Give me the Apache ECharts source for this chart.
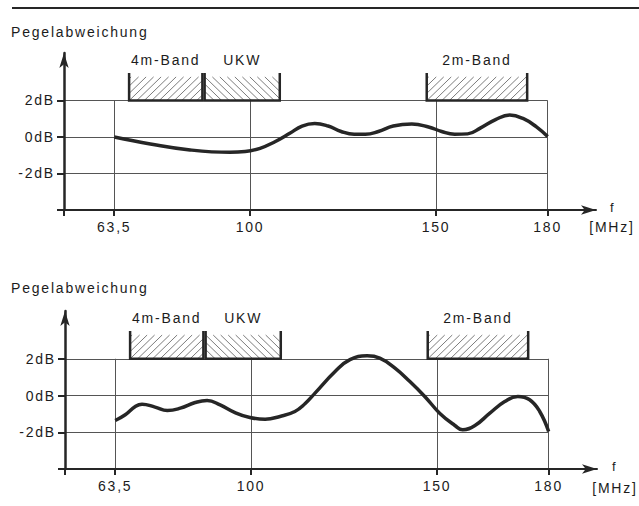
<!DOCTYPE html>
<html><head><meta charset="utf-8">
<script src="https://cdn.jsdelivr.net/npm/echarts@6/dist/echarts.min.js"></script>
<style>
html,body{margin:0;padding:0;background:#fff;}
#chart{width:639px;height:506px;}
#chart text{letter-spacing:1.8px;}
</style></head><body><div id="chart"></div>
<script>
// ---- data ----
const xTicks = [63.5, 100, 150, 180];
const xTickLabels = ['63,5', '100', '150', '180'];
const yTicks = [2, 0, -2];
const yTickLabels = ['2dB', '0dB', '-2dB'];
const bandNames = ['4m-Band', 'UKW', '2m-Band'];
const bandFrom = [67.5, 87.8, 147.5];
const bandTo = [87.2, 108.0, 174.5];
const bandHatch = ['/', '\\', '/'];
const bandTop = 3.4;
const freqTop = [63.5, 73.2, 83.9, 94.6, 98.7, 102.7, 106.7, 110.7, 114, 117.4, 121, 124.5, 128, 131, 134.5, 138.5, 143.5, 148, 151.5, 155, 158.5, 162, 166, 169.8, 173.5, 177, 180];
const levelTop = [0, -0.38, -0.71, -0.84, -0.8, -0.62, -0.26, 0.2, 0.6, 0.74, 0.6, 0.3, 0.15, 0.15, 0.3, 0.6, 0.71, 0.55, 0.3, 0.15, 0.17, 0.5, 0.95, 1.2, 1.0, 0.55, 0.02];
const freqBottom = [63.5, 66.2, 68.9, 70.7, 74.2, 77.5, 81, 85, 88.2, 91.7, 95.7, 99.7, 103.8, 107.8, 111.8, 114.5, 117.2, 122.6, 126.6, 131.2, 134.6, 138.7, 142.7, 146.7, 150.7, 154.8, 156.9, 160.1, 164.2, 168.2, 171.7, 174.9, 177.6, 180];
const levelBottom = [-1.36, -1.05, -0.6, -0.47, -0.63, -0.82, -0.69, -0.38, -0.27, -0.51, -0.93, -1.2, -1.29, -1.14, -0.87, -0.45, 0.13, 1.31, 1.95, 2.16, 2.04, 1.49, 0.76, -0.05, -0.96, -1.63, -1.87, -1.65, -0.96, -0.33, -0.05, -0.23, -0.87, -1.96];
const xMin = 50, xMax = 193, yMin = -4, yMax = 4.6;

// ---- styling ----
const INK = '#262626';
const TXT = '#1c1c1c';
const FONT = '"Liberation Sans", Arial, sans-serif';

function xAxisFor(gi) {
  return {
    gridIndex: gi, type: 'value', min: xMin, max: xMax,
    axisLine: { show: true, onZero: false, lineStyle: { color: INK, width: 2 },
      symbol: ['none', 'arrow'], symbolSize: [7, 15] },
    axisTick: { show: true, customValues: [xMin].concat(xTicks), length: 6, lineStyle: { color: INK, width: 2 } },
    axisLabel: { customValues: xTicks, margin: 10, color: TXT, fontSize: 14, fontFamily: FONT,
      formatter: v => xTickLabels[xTicks.indexOf(v)] },
    splitLine: { show: false }
  };
}
function yAxisFor(gi) {
  return {
    gridIndex: gi, type: 'value', min: yMin, max: yMax,
    axisLine: { show: true, onZero: false, lineStyle: { color: INK, width: 2.5 },
      symbol: ['none', 'arrow'], symbolSize: [7, 15] },
    axisTick: { show: true, customValues: [yMin].concat(yTicks), length: 7, lineStyle: { color: INK, width: 2 } },
    axisLabel: { customValues: yTicks, margin: 9, color: TXT, fontSize: 14, fontFamily: FONT,
      formatter: v => yTickLabels[yTicks.indexOf(v)] },
    splitLine: { show: false }
  };
}

function clipSeg(xb, yb, D, yt, x0, x1) {
  let t0, t1;
  if (D > 0) { t0 = (x0 - xb) / D; t1 = (x1 - xb) / D; }
  else { t0 = (x1 - xb) / D; t1 = (x0 - xb) / D; }
  t0 = Math.max(0, t0); t1 = Math.min(1, t1);
  if (t1 <= t0) return null;
  return { x1: xb + D * t0, y1: yb + (yt - yb) * t0, x2: xb + D * t1, y2: yb + (yt - yb) * t1 };
}

function bandRender(params, api) {
  const i = api.value(2);
  const pb = api.coord([api.value(0), yTicks[0]]);
  const pt = api.coord([api.value(1), bandTop]);
  const x0 = pb[0], x1 = pt[0], yb = pb[1], yt = pt[1];
  const h = yb - yt;
  const slash = bandHatch[i] === '/';
  const D = (slash ? 1 : -1) * h * 0.95;
  const children = [];
  const step = 7.5;
  const start = slash ? x0 - Math.abs(D) : x0;
  const end = slash ? x1 : x1 + Math.abs(D);
  for (let xb = start + 2; xb <= end; xb += step) {
    const s = clipSeg(xb, yb, D, yt + 2, x0, x1);
    if (s) children.push({ type: 'line', shape: s, style: { stroke: '#5a5a5a', lineWidth: 0.8 } });
  }
  children.push({ type: 'polyline', shape: { points: [[x0, yt - 2], [x0, yb], [x1, yb], [x1, yt - 2]] },
    style: { stroke: INK, lineWidth: 2.5, fill: null } });
  children.push({ type: 'text', style: { text: bandNames[i], x: (x0 + x1) / 2, y: yt - 15,
    align: 'center', verticalAlign: 'middle', fill: TXT, font: '14px ' + FONT } });
  return { type: 'group', children };
}

function gridLines() {
  const xEnd = xTicks[xTicks.length - 1];
  return yTicks.map(v => [{ coord: [xMin, v] }, { coord: [xEnd, v] }])
    .concat(xTicks.map(v => [{ coord: [v, yMin] }, { coord: [v, yTicks[0]] }]));
}

function seriesFor(gi, freq, level) {
  return [
    { type: 'custom', xAxisIndex: gi, yAxisIndex: gi, renderItem: bandRender, clip: false, silent: true,
      encode: { x: [0, 1] }, z: 1,
      data: bandFrom.map((f, i) => [f, bandTo[i], i]) },
    { type: 'line', xAxisIndex: gi, yAxisIndex: gi, smooth: 0.45, symbol: 'none', showSymbol: false, z: 3,
      lineStyle: { color: INK, width: 3.5 },
      data: freq.map((f, i) => [f, level[i]]),
      markLine: { silent: true, symbol: 'none', label: { show: false }, z: 0,
        lineStyle: { color: '#555', width: 1, type: 'solid' }, data: gridLines() } }
  ];
}

function textEl(t, x, y, size, align) {
  return { type: 'text', style: { text: t, x, y, align: align || 'left', verticalAlign: 'middle',
    fill: TXT, font: size + 'px ' + FONT } };
}

const chart = echarts.init(document.getElementById('chart'), null, { renderer: 'svg' });
chart.setOption({
  backgroundColor: '#fff',
  animation: false,
  grid: [
    { left: 64, top: 53, width: 532, height: 157 },
    { left: 65, top: 311, width: 532, height: 158 }
  ],
  xAxis: [xAxisFor(0), xAxisFor(1)],
  yAxis: [yAxisFor(0), yAxisFor(1)],
  series: seriesFor(0, freqTop, levelTop).concat(seriesFor(1, freqBottom, levelBottom)),
  graphic: [
    { type: 'line', shape: { x1: 12, y1: 8, x2: 639, y2: 8 }, style: { stroke: INK, lineWidth: 2 } },
    textEl('Pegelabweichung', 11, 32, 14),
    textEl('Pegelabweichung', 11, 288, 14),
    textEl('f', 610, 207, 13),
    textEl('[MHz]', 612, 227, 14, 'center'),
    textEl('f', 612, 466, 13),
    textEl('[MHz]', 615, 488, 14, 'center')
  ]
});
</script></body></html>
